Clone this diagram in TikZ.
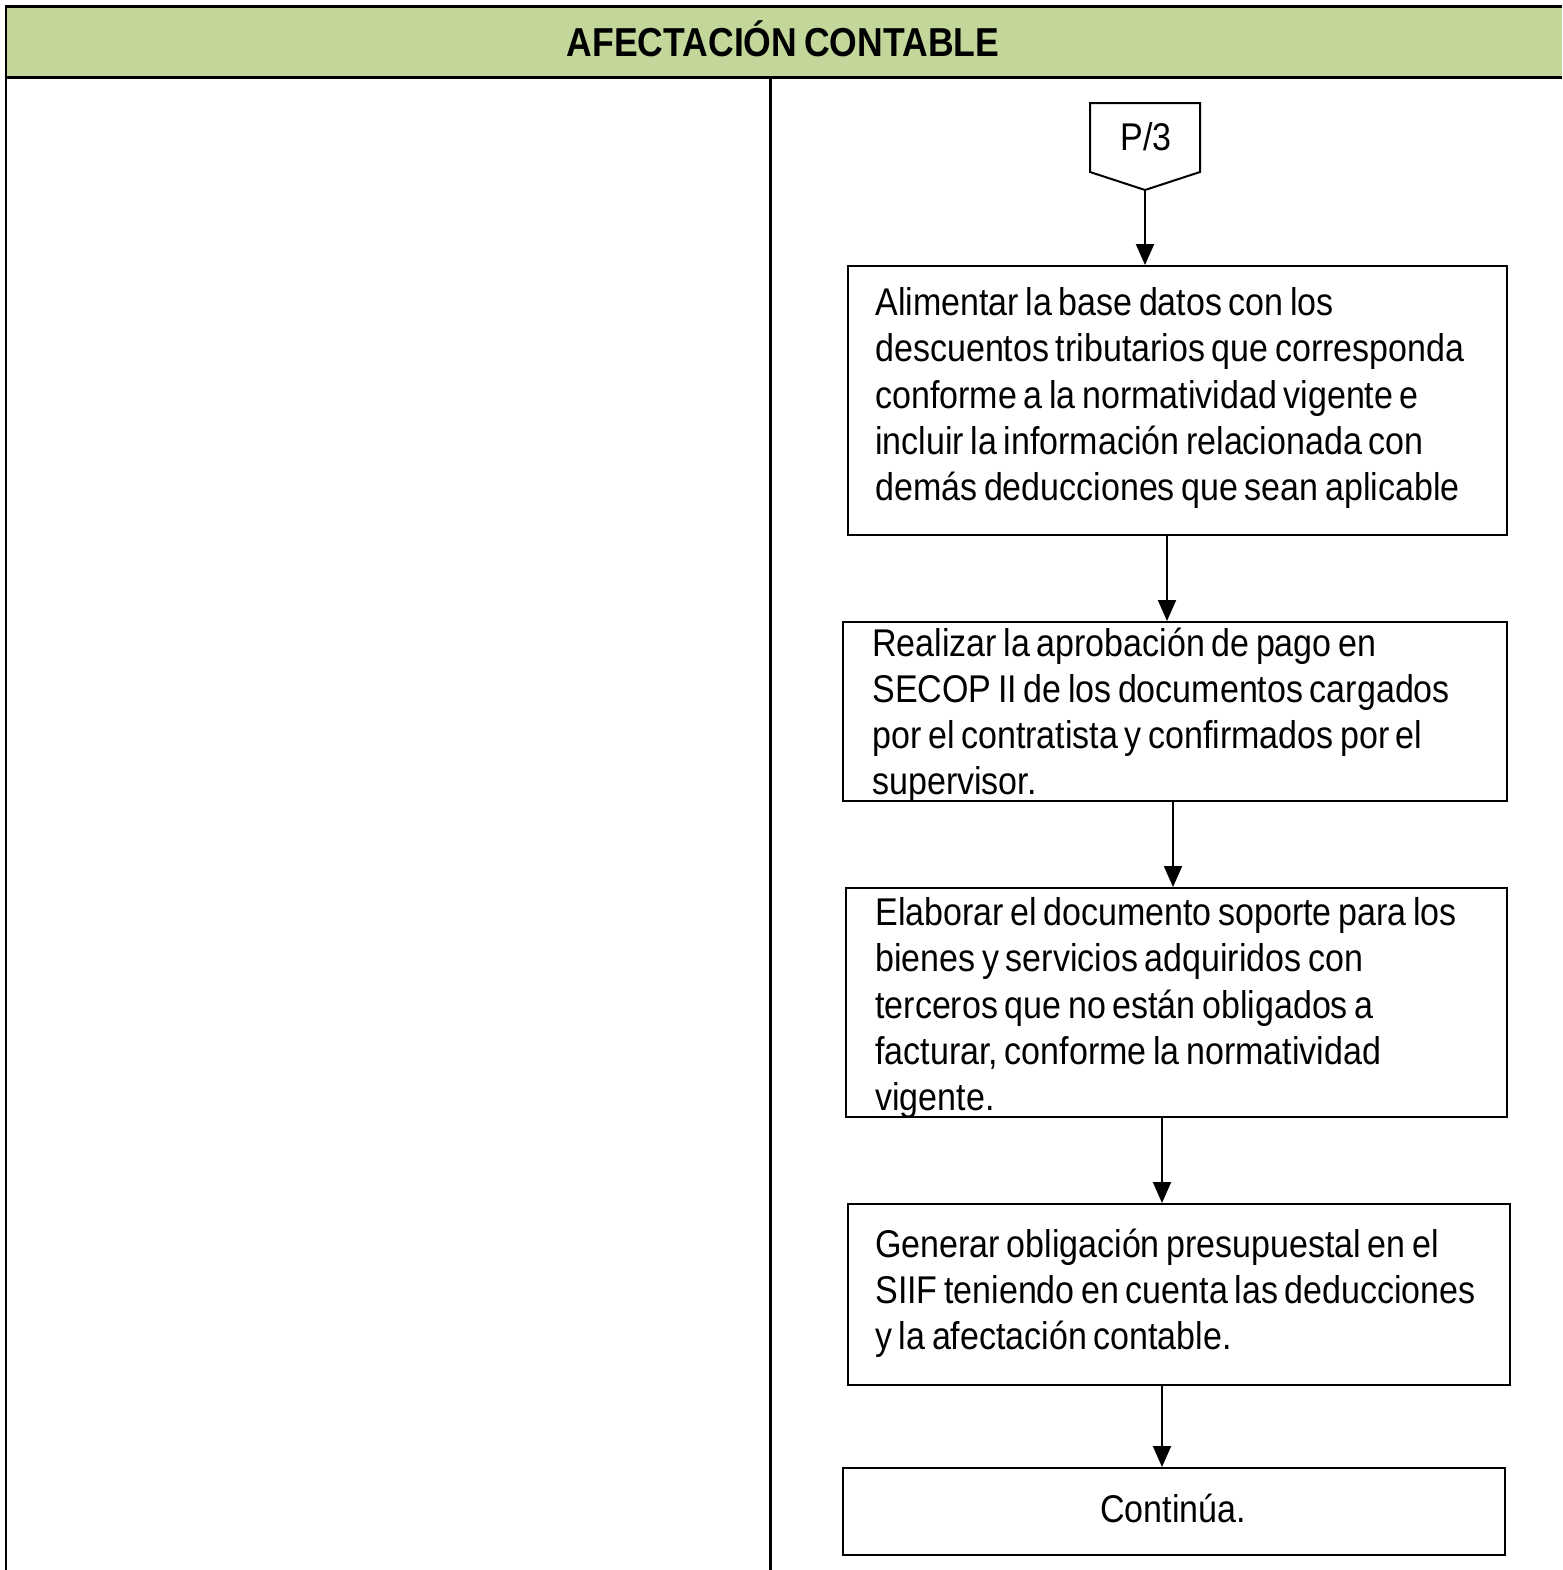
\documentclass[tikz,border=0pt]{standalone}
\usepackage{fontspec}
\setmainfont[FakeStretch=0.88,WordSpace=0.7]{Liberation Sans}
\usepackage{xcolor}
\usetikzlibrary{arrows.meta,calc,fit,positioning}
\definecolor{headgreen}{RGB}{196,215,155}
\tikzset{
    stepbox/.style={draw,line width=0.04cm,inner sep=0pt},
    steptext/.style={inner sep=0pt,align=left,font=\fontsize{22}{26.2}\selectfont},
    flow/.style={line width=0.04cm,-{Triangle[length=0.42cm,width=0.36cm]}},
    frame/.style={line width=0.06cm}
}

\begin{document}
\begin{tikzpicture}[x=0.02cm,y=-0.02cm]
    \useasboundingbox (0,0) rectangle (1563,1570);

    % header band and columns
    \fill[headgreen] (6,6) rectangle (1562,77);
    \draw[frame] (6,1570) -- (6,6) -- (1562,6);
    \draw[frame] (6,77) -- (1562,77);
    \draw[frame] (770,77) -- (770,1570);
    \node[font=\fontsize{23}{27}\selectfont\bfseries] (head) at (783,39) {AFECTACIÓN CONTABLE};

    % off-page connector
    \draw[line width=0.04cm] (1090,103) -- (1200,103) -- (1200,172) -- (1145,190) -- (1090,172) -- cycle;
    \node[font=\fontsize{22}{24}\selectfont] (p3) at (1146,137) {P/3};
    \coordinate (p3tip) at (1145,190);

    % boxes
    \node[stepbox,fit={(848,266) (1507,535)}] (b1) {};
    \node[stepbox,fit={(843,622) (1507,801)}] (b2) {};
    \node[stepbox,fit={(846,888) (1507,1117)}] (b3) {};
    \node[stepbox,fit={(848,1204) (1510,1385)}] (b4) {};
    \node[stepbox,fit={(843,1468) (1505,1555)}] (b5) {};

    % texts
    \node[steptext,anchor=west] (t1) at (875,398) {Alimentar la base datos con los\\descuentos tributarios que corresponda\\conforme a la normatividad vigente e\\incluir la información relacionada con\\demás deducciones que sean aplicable};
    \node[steptext,anchor=west] (t2) at (872,715) {Realizar la aprobación de pago en\\SECOP II de los documentos cargados\\por el contratista y confirmados por el\\supervisor.};
    \node[steptext,anchor=west] (t3) at (875,1008) {Elaborar el documento soporte para los\\bienes y servicios adquiridos con\\terceros que no están obligados a\\facturar, conforme la normatividad\\vigente.};
    \node[steptext,anchor=west] (t4) at (875,1293) {Generar obligación presupuestal en el\\SIIF teniendo en cuenta las deducciones\\y la afectación contable.};
    \node[steptext] (t5) at (1173,1508) {Continúa.};

    % connectors
    \draw[flow] (p3tip) -- (p3tip |- b1.north);
    \draw[flow] (b1.south -| 1167,0) -- (b2.north -| 1167,0);
    \draw[flow] (b2.south -| 1173,0) -- (b3.north -| 1173,0);
    \draw[flow] (b3.south -| 1162,0) -- (b4.north -| 1162,0);
    \draw[flow] (b4.south -| 1162,0) -- (b5.north -| 1162,0);
\end{tikzpicture}
\end{document}
